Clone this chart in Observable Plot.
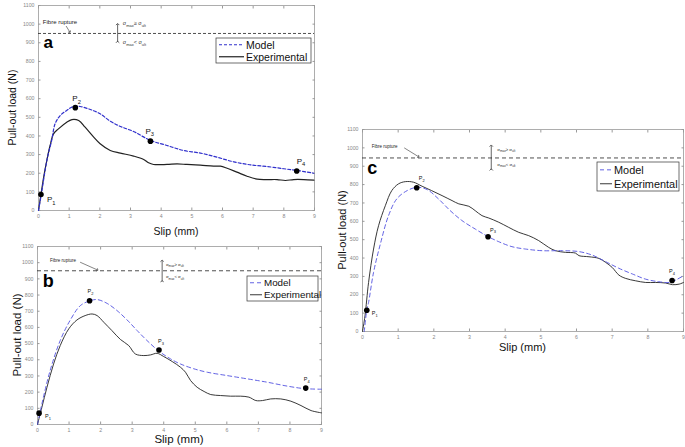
<!DOCTYPE html>
<html>
<head>
<meta charset="utf-8">
<script src="https://cdn.jsdelivr.net/npm/d3@7"></script>
<script src="https://cdn.jsdelivr.net/npm/@observablehq/plot@0.6"></script>
<style>
  html, body { margin: 0; padding: 0; background: #fff; }
  #page { position: relative; width: 685px; height: 447px; overflow: hidden; }
  .panel { position: absolute; }
</style>
</head>
<body>
<div id="page"></div>
<script>
// axis ticks shared by the three panels
const SLIP_TICKS = [0, 1, 2, 3, 4, 5, 6, 7, 8, 9];
const LOAD_TICKS = [0, 100, 200, 300, 400, 500, 600, 700, 800, 900, 1000, 1100];

// panel a  [slip mm, load N]
const modelA = [[0,0],[0.1,95],[0.2,200],[0.3,290],[0.43,376],[0.54,465],[0.71,510],[0.92,537],[1.14,558],[1.36,558],[1.69,542],[2.01,519],[2.34,479],[2.67,451],[3.1,424],[3.65,376],[4.19,349],[4.73,322],[5.28,308],[5.82,286],[6.37,261],[6.91,245],[7.45,236],[8.0,224],[8.43,215],[8.98,200]];
const expA = [[0,0],[0.08,86],[0.18,190],[0.27,268],[0.38,350],[0.49,411],[0.65,438],[0.92,474],[1.09,488],[1.31,483],[1.52,447],[1.8,394],[2.01,358],[2.34,322],[2.67,308],[3.1,292],[3.43,274],[3.59,256],[3.75,247],[4.19,247],[4.52,250],[4.84,247],[5.28,243],[5.71,238],[5.93,238],[6.15,227],[6.47,206],[6.8,184],[7.13,168],[7.45,166],[7.78,166],[8.05,161],[8.32,166],[8.65,166],[8.98,163]];
const pointsA = [[0.08,86],[1.2,552],[3.65,372],[8.42,212]];

// panel b
const modelB = [[0,0],[0.14,128],[0.4,333],[0.72,519],[1.04,646],[1.36,735],[1.67,765],[1.89,772],[2.2,749],[2.52,704],[2.84,646],[3.16,580],[3.47,519],[3.85,453],[4.22,405],[4.53,374],[4.96,344],[5.38,323],[6.02,302],[6.65,282],[7.29,261],[7.92,237],[8.45,222],[9,218]];
const expB = [[0,0],[0.14,107],[0.3,230],[0.51,374],[0.72,488],[0.99,591],[1.25,646],[1.51,673],[1.73,683],[1.89,673],[2.1,632],[2.36,580],[2.63,525],[2.89,488],[3.1,436],[3.37,426],[3.58,430],[3.79,440],[4.0,420],[4.27,389],[4.53,354],[4.69,323],[4.85,272],[5.06,230],[5.28,204],[5.49,185],[5.8,179],[6.12,175],[6.44,175],[6.7,169],[6.92,148],[7.13,148],[7.39,158],[7.71,158],[8.03,144],[8.35,117],[8.67,86],[9,72]];
const pointsB = [[0.05,70],[1.65,765],[3.85,460],[8.5,225]];

// panel c
const modelC = [[0.05,0],[0.12,116],[0.17,158],[0.31,322],[0.5,476],[0.73,631],[0.96,722],[1.25,767],[1.53,785],[1.81,773],[2.13,722],[2.46,658],[2.79,604],[3.16,558],[3.51,518],[3.82,489],[4.19,462],[4.57,449],[5.04,440],[5.6,440],[6.07,435],[6.44,416],[6.82,380],[7.19,344],[7.57,313],[7.94,285],[8.31,271],[8.6,267],[8.78,280],[9,304]];
const expC = [[0,0],[0.07,85],[0.17,267],[0.31,449],[0.45,576],[0.64,685],[0.82,767],[1.01,804],[1.2,816],[1.43,813],[1.67,791],[1.94,767],[2.23,740],[2.51,713],[2.7,695],[2.98,682],[3.16,658],[3.35,631],[3.54,618],[3.82,595],[4.1,567],[4.38,540],[4.66,522],[4.94,495],[5.22,458],[5.41,440],[5.69,431],[5.97,427],[6.07,413],[6.35,407],[6.63,398],[6.82,376],[7.0,349],[7.19,307],[7.38,289],[7.66,276],[7.94,267],[8.22,267],[8.5,264],[8.69,255],[8.88,258],[9,267]];
const pointsC = [[0.12,116],[1.52,783],[3.52,516],[8.68,278]];

const pointNames = ["P_{1}", "P_{2}", "P_{3}", "P_{4}"];
const seriesNames = ["Model", "Experimental"];
const ruptureText = "Fibre rupture";
const sigmaUp = "σ_{max}≥ σ_{ult}";
const sigmaDown = "σ_{max}< σ_{ult}";

const FONT = "'Liberation Sans', Arial, sans-serif";
const svgns = "http://www.w3.org/2000/svg";

const panels = [
  {
    letter: "a", model: modelA, exp: expA, points: pointsA, rupture: 950,
    left: 0, top: 0, w: 320, h: 240, m: [5, 6, 30, 38],
    blue: "#3030cc", dash: "3,2", ruptDash: "3,2", lw: 1.2,
    letterAt: [0.16, 903], letterSize: 17,
    rupText: [0.14, 1010], rupFs: 6, rupArrow: [0.9, 990, 1.02, 958],
    dbl: [2.58, 905, 1000], sigAt: [2.75, 1003, 903], sigFs: 5.5,
    pFs: 8, pOff: [[6, 5], [-3, -9], [-5, -10], [0, -10]],
    yLab: [12, 107.5], xLab: [176, 231], labFs: 10.5,
    legend: [216, 38, 95, 25, 25, 10.5]
  },
  {
    letter: "b", model: modelB, exp: expB, points: pointsB, rupture: 950,
    left: 0, top: 240, w: 330, h: 207, m: [6, 9, 23, 37],
    blue: "#5050e0", dash: "4,3", ruptDash: "4,3", lw: 0.9,
    letterAt: [0.17, 888], letterSize: 18,
    rupText: [0.4, 1012], rupFs: 4.5, rupArrow: [1.35, 1003, 1.9, 955],
    dbl: [3.95, 885, 1012], sigAt: [4.07, 990, 912], sigFs: 4.3,
    pFs: 5.5, pOff: [[6, 3], [-2, -9], [-1, -9], [-2, -9]],
    yLab: [17, 95], xLab: [179, 199], labFs: 11.5,
    legend: [247, 36, 71, 25, 12, 9.8]
  },
  {
    letter: "c", model: modelC, exp: expC, points: pointsC, rupture: 945,
    left: 335, top: 120, w: 350, h: 235, m: [9, 2, 24, 27],
    blue: "#5050e0", dash: "4,3", ruptDash: "4,3", lw: 0.9,
    letterAt: [0.13, 887], letterSize: 18,
    rupText: [0.26, 1007], rupFs: 4.5, rupArrow: [1.17, 1000, 1.57, 952],
    dbl: [3.61, 882, 1012], sigAt: [3.78, 991, 909], sigFs: 4.3,
    pFs: 5.5, pOff: [[5, 3], [2, -9], [2, -7], [-3, -9]],
    yLab: [7, 110], xLab: [187.5, 227], labFs: 11,
    legend: [262, 42, 82, 29, 12, 10.9]
  }
];

function subscripts(svg) {
  svg.querySelectorAll("text").forEach(t => {
    const s = t.textContent;
    if (!s.includes("_{")) return;
    const fs = parseFloat(getComputedStyle(t).fontSize);
    const shift = fs * 0.32;
    t.textContent = "";
    let down = false;
    for (const p of s.split(/(_\{[^}]*\})/)) {
      if (!p) continue;
      const ts = document.createElementNS(svgns, "tspan");
      if (p.startsWith("_{")) {
        ts.textContent = p.slice(2, -1);
        ts.setAttribute("font-size", fs * 0.72);
        if (!down) ts.setAttribute("dy", shift);
        down = true;
      } else {
        ts.textContent = p;
        if (down) ts.setAttribute("dy", -shift);
        down = false;
      }
      t.appendChild(ts);
    }
  });
}

function draw(p) {
  const [mt, mr, mb, ml] = p.m;
  const tickAxis = (fn, anchor, ticks) => fn({anchor, ticks, tickSize: -2.5, fill: "none", stroke: "#9a9a9a", label: null});
  const lab = p.points.map((d, i) => ({x: d[0], y: d[1], t: pointNames[i], dx: p.pOff[i][0], dy: p.pOff[i][1]}));

  const chart = Plot.plot({
    width: p.w, height: p.h,
    marginTop: mt, marginRight: mr, marginBottom: mb, marginLeft: ml,
    x: {domain: [0, 9]},
    y: {domain: [0, 1100]},
    style: {fontFamily: FONT, background: "transparent", overflow: "visible"},
    marks: [
      Plot.frame({stroke: "#9a9a9a", strokeWidth: 0.8}),
      tickAxis(Plot.axisX, "bottom", SLIP_TICKS),
      tickAxis(Plot.axisX, "top", SLIP_TICKS),
      tickAxis(Plot.axisY, "left", LOAD_TICKS),
      tickAxis(Plot.axisY, "right", LOAD_TICKS),
      Plot.axisX({ticks: SLIP_TICKS, tickSize: 0, tickPadding: 4, tickFormat: d3.format("d"), fontSize: 5.2, fill: "#888", label: null}),
      Plot.axisY({ticks: LOAD_TICKS, tickSize: 0, tickPadding: 4, tickFormat: d3.format("d"), fontSize: 5.2, fill: "#888", label: null}),
      Plot.ruleY([p.rupture], {stroke: "#222", strokeWidth: 0.8, strokeDasharray: p.ruptDash}),
      Plot.line(p.exp, {x: d => d[0], y: d => d[1], stroke: "#222", strokeWidth: p.lw, curve: "catmull-rom"}),
      Plot.line(p.model, {x: d => d[0], y: d => d[1], stroke: p.blue, strokeWidth: p.lw, strokeDasharray: p.dash, curve: "catmull-rom"}),
      Plot.dot(p.points, {x: d => d[0], y: d => d[1], r: 2.8, fill: "#000"}),
      ...lab.map(d => Plot.text([d], {x: "x", y: "y", text: "t", dx: d.dx, dy: d.dy, textAnchor: "start", fontSize: p.pFs, fill: "#111"})),
      Plot.text([ruptureText], {x: p.rupText[0], y: p.rupText[1], text: d => d, textAnchor: "start", fontSize: p.rupFs, fill: "#222"}),
      Plot.link([p.rupArrow], {x1: d => d[0], y1: d => d[1], x2: d => d[2], y2: d => d[3], stroke: "#333", strokeWidth: 0.6, markerEnd: "arrow"}),
      Plot.link([p.dbl], {x1: d => d[0], y1: d => d[1], x2: d => d[0], y2: d => d[2], stroke: "#222", strokeWidth: 0.7, markerStart: "arrow", markerEnd: "arrow"}),
      Plot.text([sigmaUp], {x: p.sigAt[0], y: p.sigAt[1], text: d => d, textAnchor: "start", fontSize: p.sigFs, fill: "#333"}),
      Plot.text([sigmaDown], {x: p.sigAt[0], y: p.sigAt[2], text: d => d, textAnchor: "start", fontSize: p.sigFs, fill: "#333"}),
      Plot.text([p.letter], {x: p.letterAt[0], y: p.letterAt[1], text: d => d, textAnchor: "start", fontSize: p.letterSize, fontWeight: "bold", fill: "#000"})
    ]
  });

  const holder = document.createElement("div");
  holder.className = "panel";
  holder.style.left = p.left + "px";
  holder.style.top = p.top + "px";
  holder.appendChild(chart);
  document.getElementById("page").appendChild(holder);

  const svg = d3.select(chart);
  svg.append("text")
    .attr("transform", `translate(${p.yLab[0]},${p.yLab[1]}) rotate(-90)`)
    .attr("text-anchor", "middle").attr("dominant-baseline", "central")
    .attr("font-size", p.labFs).attr("font-family", FONT).attr("fill", "#111")
    .text("Pull-out load (N)");
  svg.append("text")
    .attr("x", p.xLab[0]).attr("y", p.xLab[1])
    .attr("text-anchor", "middle").attr("dominant-baseline", "central")
    .attr("font-size", p.labFs).attr("font-family", FONT).attr("fill", "#111")
    .text("Slip (mm)");

  // legend box
  const [lx, ly, lw, lh, ll, lfs] = p.legend;
  const g = svg.append("g").attr("font-family", FONT).attr("font-size", lfs).attr("fill", "#111").attr("text-anchor", "start");
  g.append("rect").attr("x", lx).attr("y", ly).attr("width", lw).attr("height", lh)
    .attr("fill", "#fff").attr("stroke", "#333").attr("stroke-width", 0.7);
  const rows = [ly + lh * 0.27, ly + lh * 0.75];
  g.append("line").attr("x1", lx + 3).attr("x2", lx + 3 + ll).attr("y1", rows[0]).attr("y2", rows[0])
    .attr("stroke", p.blue).attr("stroke-width", p.lw).attr("stroke-dasharray", p.dash);
  g.append("line").attr("x1", lx + 3).attr("x2", lx + 3 + ll).attr("y1", rows[1]).attr("y2", rows[1])
    .attr("stroke", "#222").attr("stroke-width", p.lw);
  seriesNames.forEach((n, i) => {
    g.append("text").attr("x", lx + ll + 5).attr("y", rows[i]).attr("dominant-baseline", "central").text(n);
  });

  subscripts(chart);
}

panels.forEach(draw);
</script>
</body>
</html>
